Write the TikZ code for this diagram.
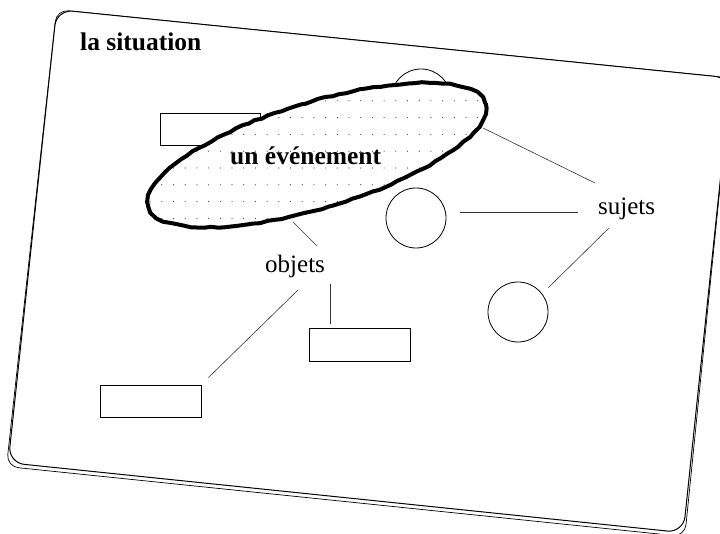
\documentclass[tikz,border=0pt]{standalone}
\usepackage{fontspec}
\setmainfont{Liberation Serif}
\usetikzlibrary{shapes.geometric,calc,decorations.pathmorphing}
\tikzset{
  boxnode/.style={draw, line width=0.9pt, inner sep=0pt, minimum height=32pt, minimum width=100pt},
  ring/.style={draw, circle, line width=0.8pt, minimum size=60pt, inner sep=0pt},
  link/.style={line width=0.6pt, black!80},
  lab/.style={inner sep=0pt, anchor=base west, font=\fontsize{25}{30}\selectfont},
  boldlab/.style={inner sep=0pt, anchor=base west, font=\fontsize{25.5}{30}\selectfont\bfseries},
  frame/.style={line width=1pt, rounded corners=16pt},
  shade/.style={line width=0.7pt, rounded corners=12pt},
  eventline/.style={draw, ellipse, line width=4pt, inner sep=0pt,
    minimum width=352pt, minimum height=106pt, rotate=17,
    decorate, decoration={random steps, segment length=7pt, amplitude=0.7pt}}
}
\begin{document}
\begin{tikzpicture}[x=1pt, y=-1pt]
\useasboundingbox (0,0) rectangle (720,534);
\clip (0,0) rectangle (720,534);
\fill[white] (0,0) rectangle (720,534);
\pgfmathsetseed{7}

% la situation: frame with shadow
\draw[shade] (31.5,238) -- (56.6,9.6) -- (731,78) -- (684.8,536.7) -- (6.5,466.5) -- cycle;
\draw[frame, fill=white] (32.4,236) -- (56.6,9.6) -- (731,78) -- (683.3,532.7) -- (8.2,462.7) -- cycle;
\node[boldlab] (titre) at (80,51) {la situation};

% elements behind the event
\node[ring] (c1) at (421,99) {};
\node[boxnode] (r1) at (210,129) {};

% the event: white fill, dots, thick outline
\begin{scope}
  \fill[white, rotate around={17:(317,155)}] (317,155) ellipse [x radius=176, y radius=53];
  \clip[rotate around={17:(317,155)}] (317,155) ellipse [x radius=176, y radius=53];
  \foreach \i in {-8,...,23}
    \foreach \j in {-6,...,4}
      \fill[black!75] (232+11.7*\i, 168+16.8*\j) circle [radius=0.6];
\end{scope}
\node[eventline] (ev) at (317,155) {};
\node[boldlab] (evtext) at (230,165) {un événement};

% other elements
\node[ring] (c2) at (416,218) {};
\node[ring] (c3) at (518,312) {};
\node[boxnode, minimum width=101pt, minimum height=33pt] (r2) at (359.5,344.5) {};
\node[boxnode, minimum width=101pt] (r3) at (150.5,401) {};
\node[lab] (sujets) at (598,215) {sujets};
\node[lab] (objets) at (265,273) {objets};

% connectors
\draw[link] ($(ev.center)+(166,-27)$) -- ($(sujets.base west)+(-3,-32)$);
\draw[link] ($(c2.east)+(14,-6)$) -- ($(sujets.base west)+(-20,-3)$);
\draw[link] ($(sujets.base west)+(11,13)$) -- ($(c3.north east)+(8.8,-2.8)$);
\draw[link] ($(ev.center)+(-24,67)$) -- ($(objets.base west)+(52,-27)$);
\draw[link] ($(objets.base west)+(65,11)$) -- ($(r2.north)+(-29.5,-4)$);
\draw[link] ($(objets.base west)+(33,17)$) -- ($(r3.north east)+(7,-7)$);
\end{tikzpicture}
\end{document}
